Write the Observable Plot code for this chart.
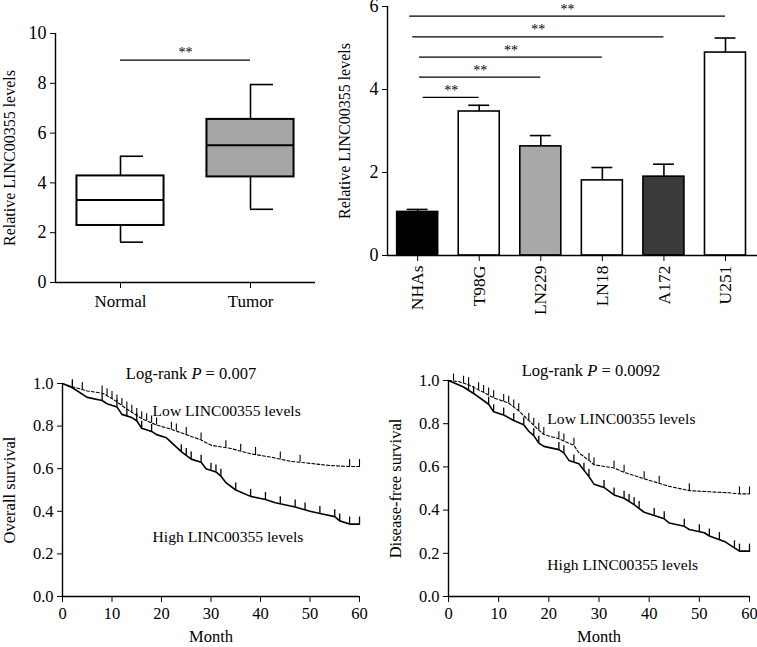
<!DOCTYPE html>
<html><head><meta charset="utf-8">
<script src="https://cdn.jsdelivr.net/npm/d3@7"></script>
<script src="https://cdn.jsdelivr.net/npm/@observablehq/plot@0.6"></script>
<style>
body{margin:0;background:#fff;}
#fig{position:relative;width:757px;height:647px;overflow:hidden;background:#fff;}
#fig > svg{position:absolute;overflow:visible;}
</style></head><body><div id="fig"></div>
<script>
// ---------- Panel A: box plot ----------
const groups = ["Normal", "Tumor"];
const boxMin = [1.62, 2.94];
const boxQ1 = [2.29, 4.24];
const boxMedian = [3.31, 5.51];
const boxQ3 = [4.28, 6.55];
const boxMax = [5.07, 7.95];
const boxFill = ["#ffffff", "#a6a6a6"];
const groupSigLevel = 8.93;
const yTicksA = [0, 2, 4, 6, 8, 10];

// ---------- Panel B: bar chart ----------
const cellLines = ["NHAs", "T98G", "LN229", "LN18", "A172", "U251"];
const cellMean = [1.05, 3.47, 2.63, 1.81, 1.90, 4.89];
const cellErr = [0.06, 0.15, 0.26, 0.31, 0.30, 0.35];
const cellFill = ["#000000", "#ffffff", "#a8a8a8", "#ffffff", "#3a3a3a", "#ffffff"];
const sigTarget = ["T98G", "LN229", "LN18", "A172", "U251"];
const sigLevel = [3.81, 4.30, 4.78, 5.27, 5.77];
const sigStartShift = [0.09, 0.03, 0.03, -0.08, -0.13];
const yTicksB = [0, 2, 4, 6];

// ---------- Panel C: overall survival ----------
const osHighMonth = [0,2,5,8,9,11,12,14,15,16,18,19,21,24,26,28,29,31,32,33,35,38,41,43,47,50,52,55,56,58,60];
const osHighSurv  = [1,0.98,0.935,0.92,0.905,0.89,0.855,0.84,0.825,0.79,0.775,0.76,0.745,0.68,0.645,0.63,0.60,0.585,0.565,0.535,0.50,0.47,0.455,0.44,0.42,0.40,0.39,0.375,0.355,0.34,0.34];
const osLowMonth  = [0,2,5,8,10,13,16,19,22,25,28,30,34,38,42,46,50,54,58,60];
const osLowSurv   = [1,0.985,0.965,0.955,0.93,0.88,0.835,0.805,0.785,0.76,0.735,0.71,0.695,0.67,0.655,0.635,0.625,0.615,0.61,0.61];
const osHighCensor = [2,8,11,13,15,16,18,24,25,26,28,30,31,32,35,38,41,44,47,49,52,55,56,58,60];
const osLowCensor  = [2,4,8,9,10,11,12,13,14,15,16,17,18,19,22,23,25,28,33,36,39,44,48,58,60];
const osP = "0.007";

// ---------- Panel D: disease-free survival ----------
const dfsHighMonth = [0,3,5,8,9,11,13,15,16,17,18,19,22,23,24,26,27,28,29,31,33,35,37,39,41,43,44,47,48,51,52,55,58,60];
const dfsHighSurv  = [1,0.97,0.94,0.89,0.855,0.84,0.815,0.795,0.765,0.745,0.71,0.695,0.68,0.665,0.63,0.615,0.585,0.555,0.52,0.505,0.47,0.455,0.425,0.39,0.375,0.36,0.34,0.325,0.31,0.295,0.28,0.255,0.21,0.21];
const dfsLowMonth  = [0,2,4,7,9,12,14,16,18,19,22,25,26,28,29,33,35,39,44,48,52,56,58,60];
const dfsLowSurv   = [1,0.995,0.98,0.945,0.92,0.895,0.86,0.815,0.77,0.75,0.73,0.70,0.665,0.63,0.61,0.595,0.575,0.545,0.51,0.49,0.485,0.48,0.475,0.475];
const dfsHighCensor = [4,5,8,9,11,13,15,17,18,22,23,25,27,28,31,33,35,36,37,38,41,43,47,50,52,54,57,58,60];
const dfsLowCensor  = [1,3,4,6,7,8,9,11,12,13,14,16,17,18,19,22,23,25,28,29,33,35,39,42,48,58,60];
const dfsP = "0.0092";

const survTicks = [0, 0.2, 0.4, 0.6, 0.8, 1.0];
const monthTicks = [0, 10, 20, 30, 40, 50, 60];

const FONT = "'Liberation Serif', 'Times New Roman', serif";
const fig = document.getElementById("fig");
function place(svg, left, top) {
  svg.style.left = left + "px";
  svg.style.top = top + "px";
  fig.appendChild(svg);
}

// ---------- A ----------
{
  const data = groups.map((g, i) => ({g, i, min: boxMin[i], q1: boxQ1[i], med: boxMedian[i], q3: boxQ3[i], max: boxMax[i], fill: boxFill[i]}));
  const hw = 0.335, cap = 0.177;
  const svg = Plot.plot({
    width: 330, height: 320, marginLeft: 55, marginRight: 15, marginTop: 33, marginBottom: 38,
    style: {fontFamily: FONT, fontSize: "17px", color: "black", background: "transparent"},
    x: {domain: [-0.5, 1.5]},
    y: {domain: [0, 10]},
    color: {type: "identity"},
    marks: [
      Plot.axisY({ticks: yTicksA, tickSize: 5, tickPadding: 4, label: null, tickFormat: d3.format("d"), fontSize: 18}),
      Plot.axisX({ticks: [0, 1], tickSize: 6, tickPadding: 6, label: null, tickFormat: i => groups[i], fontSize: 17}),
      Plot.ruleX([-0.5], {strokeWidth: 1.4}),
      Plot.ruleY([0], {strokeWidth: 1.4}),
      Plot.ruleX(data, {x: "i", y1: "min", y2: "q1", strokeWidth: 1.6}),
      Plot.ruleX(data, {x: "i", y1: "q3", y2: "max", strokeWidth: 1.6}),
      Plot.ruleY(data, {y: "min", x1: "i", x2: d => d.i + cap, strokeWidth: 1.6}),
      Plot.ruleY(data, {y: "max", x1: "i", x2: d => d.i + cap, strokeWidth: 1.6}),
      Plot.rect(data, {x1: d => d.i - hw, x2: d => d.i + hw, y1: "q1", y2: "q3", fill: "fill", stroke: "black", strokeWidth: 2}),
      Plot.ruleY(data, {y: "med", x1: d => d.i - hw, x2: d => d.i + hw, strokeWidth: 2}),
      Plot.ruleY([groupSigLevel], {x1: 0, x2: 1, strokeWidth: 1.2}),
      Plot.text(["**"], {x: 0.5, y: groupSigLevel, dy: -8, fontSize: 14, fill: "black"}),
      Plot.text(["Relative LINC00355 levels"], {frameAnchor: "left", textAnchor: "middle", rotate: -90, dx: -46, fontSize: 16})
    ]
  });
  place(svg, 0, 0);
}

// ---------- B ----------
{
  const data = cellLines.map((c, i) => ({c, i, m: cellMean[i], e: cellErr[i], fill: cellFill[i]}));
  const sig = sigTarget.map((t, k) => {
    const to = cellLines.indexOf(t);
    const from = sigStartShift[k];
    return {from, to, level: sigLevel[k], mid: (from + to) / 2};
  });
  const hw = 0.333, cap = 0.17;
  const svg = Plot.plot({
    width: 427, height: 320, marginLeft: 57, marginRight: 0, marginTop: 6, marginBottom: 65,
    style: {fontFamily: FONT, fontSize: "17px", color: "black", background: "transparent"},
    x: {domain: [-0.49, 5.52]},
    y: {domain: [0, 6]},
    color: {type: "identity"},
    marks: [
      Plot.axisY({ticks: yTicksB, tickSize: 5, tickPadding: 4, label: null, tickFormat: d3.format("d"), fontSize: 18}),
      Plot.axisX({ticks: d3.range(cellLines.length), tickSize: 6, tickPadding: 4, tickRotate: -90, label: null, tickFormat: i => cellLines[i], fontSize: 17.5}),
      Plot.rect(data, {x1: d => d.i - hw, x2: d => d.i + hw, y1: 0, y2: "m", fill: "fill", stroke: "black", strokeWidth: 1.6}),
      Plot.ruleX(data, {x: "i", y1: "m", y2: d => d.m + d.e, strokeWidth: 1.6}),
      Plot.ruleY(data, {y: d => d.m + d.e, x1: d => d.i - cap, x2: d => d.i + cap, strokeWidth: 1.6}),
      Plot.ruleX([-0.49], {y1: 0, y2: 6, strokeWidth: 1.4}),
      Plot.ruleY([0], {strokeWidth: 1.4}),
      Plot.ruleY(sig, {y: "level", x1: "from", x2: "to", strokeWidth: 1.2}),
      Plot.text(sig, {x: "mid", y: "level", text: () => "**", dy: -7, fontSize: 14, fill: "black"}),
      Plot.text(["Relative LINC00355 levels"], {frameAnchor: "left", textAnchor: "middle", rotate: -90, dx: -43, fontSize: 16})
    ]
  });
  place(svg, 330, 0);
}

// ---------- KM helper ----------
function km({highMonth, highSurv, lowMonth, lowSurv, highCensor, lowCensor, p, yLabel, width, marginLeft, marginRight, marginTop, marginBottom, titleDx, lowLabel, highLabel}) {
  const height = 317;
  const pxPerUnit = height - marginTop - marginBottom;
  const tickLen = 7 / pxPerUnit;
  const high = highMonth.map((t, i) => ({t, s: highSurv[i]}));
  const low = lowMonth.map((t, i) => ({t, s: lowSurv[i]}));
  const at = (months, surv) => t => {
    const j = d3.bisectLeft(months, t);
    if (months[j] === t || j === 0) return surv[Math.max(j, 0)];
    const f = (t - months[j - 1]) / (months[j] - months[j - 1]);
    return surv[j - 1] + f * (surv[j] - surv[j - 1]);
  };
  const hAt = at(highMonth, highSurv), lAt = at(lowMonth, lowSurv);
  const hc = highCensor.map(t => ({t, s: hAt(t)}));
  const lc = lowCensor.map(t => ({t, s: lAt(t)}));
  const svg = Plot.plot({
    width, height, marginLeft, marginRight, marginTop, marginBottom,
    style: {fontFamily: FONT, fontSize: "16px", color: "black", background: "transparent"},
    x: {domain: [0, 60]},
    y: {domain: [0, 1]},
    marks: [
      Plot.axisY({ticks: survTicks, tickSize: 5, tickPadding: 4, label: null, tickFormat: d3.format(".1f"), fontSize: 16.5}),
      Plot.axisX({ticks: monthTicks, tickSize: 6, tickPadding: 5, label: null, tickFormat: d3.format("d"), fontSize: 16.5}),
      Plot.ruleX([0], {strokeWidth: 1.4}),
      Plot.ruleY([0], {strokeWidth: 1.4}),
      Plot.line(low, {x: "t", y: "s", stroke: "black", strokeWidth: 1.1, strokeDasharray: "3,2"}),
      Plot.ruleX(lc, {x: "t", y1: "s", y2: d => d.s + tickLen, strokeWidth: 1.1}),
      Plot.line(high, {x: "t", y: "s", stroke: "black", strokeWidth: 1.6}),
      Plot.ruleX(hc, {x: "t", y1: "s", y2: d => d.s + tickLen, strokeWidth: 1.3}),
      Plot.text([`Log-rank P = ${p}`], {frameAnchor: "top", dx: titleDx, dy: -16, fontSize: 16.5}),
      Plot.text(["Low LINC00355 levels"], {x: lowLabel[0], y: lowLabel[1], textAnchor: "start", fontSize: 15.6}),
      Plot.text(["High LINC00355 levels"], {x: highLabel[0], y: highLabel[1], textAnchor: "start", fontSize: 15.6}),
      Plot.text(["Month"], {frameAnchor: "bottom", dy: 45, fontSize: 16.5}),
      Plot.text([yLabel], {frameAnchor: "left", textAnchor: "middle", rotate: -90, dx: -53, fontSize: 16.5})
    ]
  });
  d3.select(svg).selectAll("text").each(function () {
    const t = this.textContent;
    const m = t.match(/^(Log-rank )P( = .*)$/);
    if (m) {
      const sel = d3.select(this);
      sel.selectAll("*").remove();
      this.textContent = "";
      sel.append("tspan").text(m[1]);
      sel.append("tspan").attr("font-style", "italic").text("P");
      sel.append("tspan").text(m[2]);
    }
  });
  return svg;
}

place(km({highMonth: osHighMonth, highSurv: osHighSurv, lowMonth: osLowMonth, lowSurv: osLowSurv,
  highCensor: osHighCensor, lowCensor: osLowCensor, p: osP, yLabel: "Overall survival",
  width: 380, marginLeft: 62, marginRight: 21, marginTop: 53, marginBottom: 51, titleDx: -20,
  lowLabel: [18.2, 0.87], highLabel: [18.2, 0.277]}), 0, 330);

place(km({highMonth: dfsHighMonth, highSurv: dfsHighSurv, lowMonth: dfsLowMonth, lowSurv: dfsLowSurv,
  highCensor: dfsHighCensor, lowCensor: dfsLowCensor, p: dfsP, yLabel: "Disease-free survival",
  width: 377, marginLeft: 68, marginRight: 8, marginTop: 50, marginBottom: 51, titleDx: -8,
  lowLabel: [19.7, 0.824], highLabel: [19.7, 0.148]}), 380, 330);
</script></body></html>
